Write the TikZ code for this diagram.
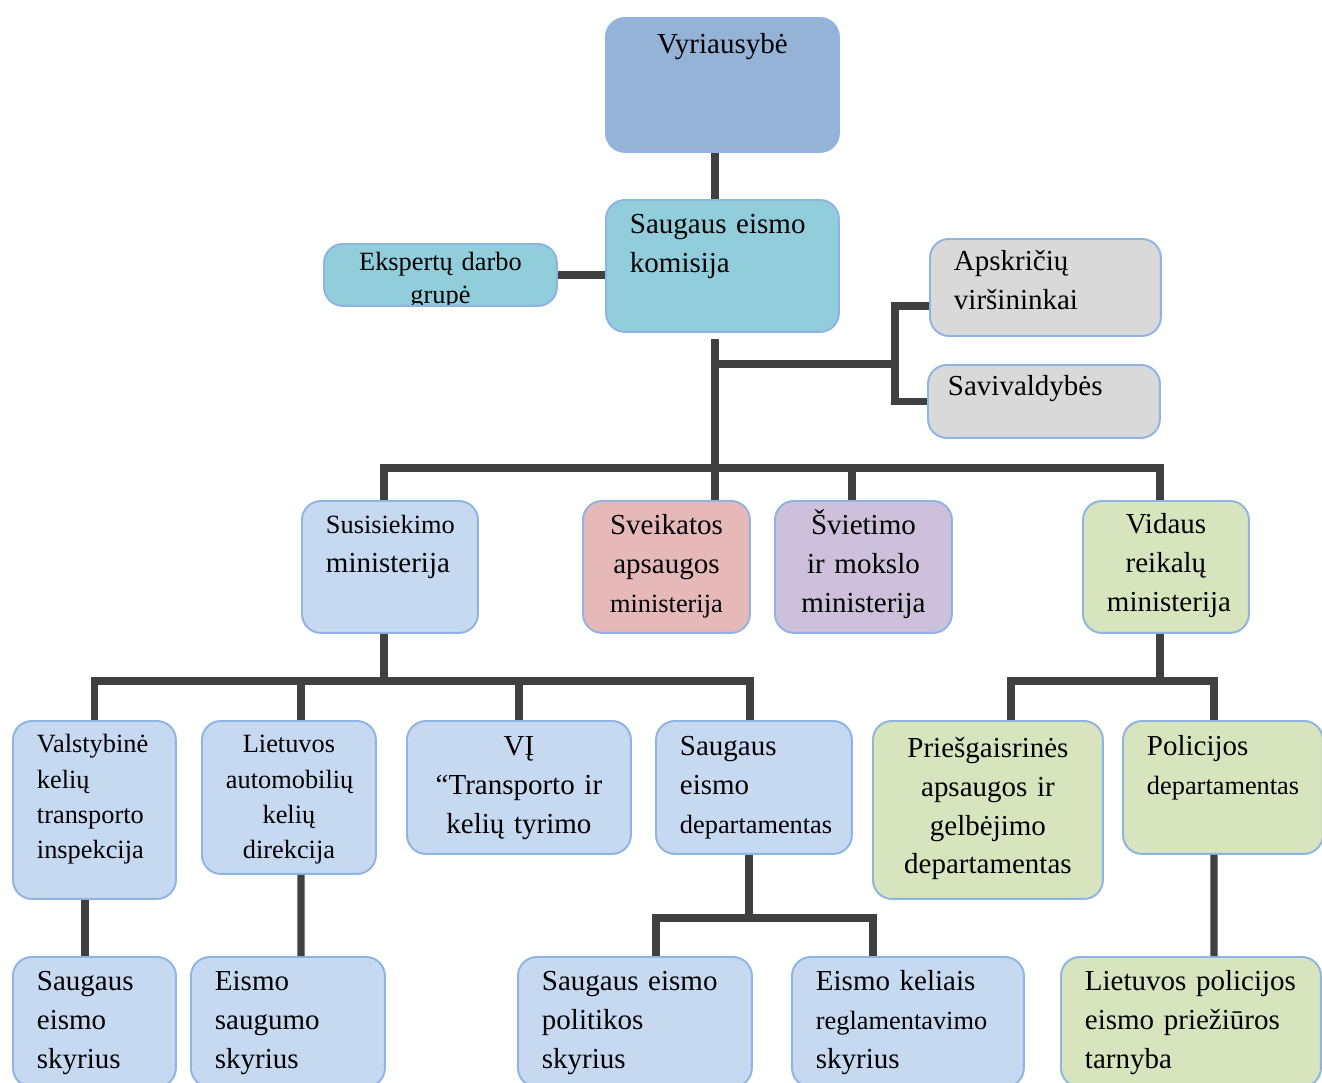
\documentclass[tikz,border=0pt]{standalone}
\usepackage{fontspec}
\setmainfont{Liberation Serif}
\usepackage{xcolor}
\usepackage{tikz}

\definecolor{edge}{HTML}{8EB4E3}
\definecolor{linkgray}{HTML}{404040}
\definecolor{cvyr}{HTML}{95B3D7}
\definecolor{cteal}{HTML}{92CDDC}
\definecolor{cgray}{HTML}{D9D9D9}
\definecolor{clblue}{HTML}{C6D9F1}
\definecolor{cpink}{HTML}{E6B9B8}
\definecolor{clav}{HTML}{CCC0DA}
\definecolor{cgreen}{HTML}{D7E4BD}

\newcommand{\txtbig}{\fontsize{16.5}{22}\selectfont}
\newcommand{\txtsmall}{\fontsize{15}{20}\selectfont}

\begin{document}
\begin{tikzpicture}[x=0.02cm, y=-0.02cm,
  unit/.style={draw=edge, line width=1.1pt, rounded corners=0.38cm, anchor=north west,
    inner xsep=0.48cm, inner ysep=0pt, font=\txtbig},
  link/.style={draw=linkgray, line width=4.2pt}]
\useasboundingbox (0,0) rectangle (1322,1082);
\clip (0,0) rectangle (1322,1082);

% top
\node[unit, fill=cvyr, text width=3.70cm, text height=0.72cm, text depth=1.96cm, align=center] (vyr) at (605,17) {Vyriausybė};
\node[unit, fill=cteal, text width=3.70cm, text height=0.68cm, text depth=1.96cm, align=left] (komisija) at (605,199) {Saugaus eismo\\komisija};
\node[unit, fill=cteal, minimum width=4.66cm, minimum height=1.24cm,
  path picture={\node[draw=none, fill=none, anchor=base, inner sep=0pt, text width=3.70cm, align=center,
    font=\fontsize{15}{18.7}\selectfont] (ekspertaitxt) at ([yshift=-0.54cm]path picture bounding box.north) {Ekspertų darbo\\grupė};}] (ekspertai) at (323,243) {};
\node[unit, fill=cgray, text width=3.66cm, text height=0.64cm, text depth=1.30cm, align=left] (apskr) at (929,238) {Apskričių\\viršininkai};
\node[unit, fill=cgray, inner xsep=0.40cm, text width=3.84cm, text height=0.62cm, text depth=0.84cm, align=left] (saviv) at (927,364) {Savivaldybės};

% ministerijos
\node[unit, fill=clblue, text width=2.56cm, text height=0.66cm, text depth=1.98cm, align=left] (susis) at (301,500) {{\txtsmall Susisiekimo}\\ministerija};
\node[unit, fill=cpink, text width=2.38cm, text height=0.68cm, text depth=1.96cm, align=center] (sveik) at (582,500) {Sveikatos\\apsaugos\\{\txtsmall ministerija}};
\node[unit, fill=clav, text width=2.58cm, text height=0.68cm, text depth=1.96cm, align=center] (sviet) at (774,500) {Švietimo\\ir mokslo\\ministerija};
\node[unit, fill=cgreen, text width=2.36cm, text height=0.66cm, text depth=1.98cm, align=center] (vidaus) at (1082,500) {Vidaus\\reikalų\\ministerija};

% padaliniai
\node[unit, fill=clblue, font=\txtsmall, text width=2.30cm, text height=0.64cm, text depth=2.92cm, align=left] (valst) at (12,720) {Valstybinė\\kelių\\transporto\\inspekcija};
\node[unit, fill=clblue, font=\txtsmall, text width=2.52cm, text height=0.64cm, text depth=2.42cm, align=center] (lakd) at (201,720) {Lietuvos\\automobilių\\kelių\\direkcija};
\node[unit, fill=clblue, text width=3.52cm, text height=0.70cm, text depth=1.96cm, align=center] (vi) at (406,720) {VĮ\\“Transporto ir\\kelių tyrimo};
\node[unit, fill=clblue, text width=2.96cm, text height=0.70cm, text depth=1.96cm, align=left] (sed) at (655,720) {Saugaus\\eismo\\{\txtsmall departamentas}};
\node[unit, fill=cgreen, text width=3.64cm, text height=0.74cm, text depth=2.82cm, align=center] (pgd) at (872,720) {Priešgaisrinės\\apsaugos ir\\gelbėjimo\\departamentas};
\node[unit, fill=cgreen, text width=3.04cm, text height=0.70cm, text depth=1.96cm, align=left] (polic) at (1122,720) {Policijos\\{\txtsmall departamentas}};

% skyriai
\node[unit, fill=clblue, text width=2.30cm, text height=0.68cm, text depth=1.92cm, align=left] (sesk) at (12,956) {Saugaus\\eismo\\skyrius};
\node[unit, fill=clblue, text width=2.92cm, text height=0.68cm, text depth=1.92cm, align=left] (ess) at (190,956) {Eismo\\saugumo\\skyrius};
\node[unit, fill=clblue, text width=3.72cm, text height=0.68cm, text depth=1.92cm, align=left] (sep) at (517,956) {Saugaus eismo\\politikos\\skyrius};
\node[unit, fill=clblue, text width=3.68cm, text height=0.68cm, text depth=1.92cm, align=left] (ekr) at (791,956) {Eismo keliais\\{\txtsmall reglamentavimo}\\skyrius};
\node[unit, fill=cgreen, text width=4.24cm, text height=0.68cm, text depth=1.92cm, align=left] (lpet) at (1060,956) {Lietuvos policijos\\eismo priežiūros\\tarnyba};

% jungtys
\coordinate (j0) at (715,468);
\coordinate (j1) at (384,681);
\coordinate (j2) at (1160,681);
\coordinate (j3) at (749,918);
\coordinate (j4) at (895,364);

\draw[link] (vyr.south -| j0) -- (komisija.north -| j0);
\draw[link] (ekspertai.east) -- (ekspertai.east -| komisija.west);
\draw[link] ([yshift=-0.12cm]komisija.south -| j0) -- (sveik.north -| j0);
\draw[link] (j0 |- j4) -- (j4);
\draw[link] ([yshift=-0.37cm]apskr.west) -| (j4) |- (saviv.west);
\draw[link] (j0) -| (susis.north -| j1);
\draw[link] (j0) -| ([xshift=-0.23cm]sviet.north);
\draw[link] (j0) -| (vidaus.north -| j2);

\draw[link] (susis.south -| j1) -- (j1);
\draw[link] (j1) -| (valst.north);
\draw[link] (j1) -| ([xshift=0.24cm]lakd.north);
\draw[link] (j1) -| (vi.north);
\draw[link] (j1) -| ([xshift=-0.08cm]sed.north);
\draw[link] ([xshift=-0.19cm]valst.south) -- ([xshift=-0.19cm]sesk.north);
\draw[link] ([xshift=0.24cm]lakd.south) -- ([xshift=0.26cm]ess.north);

\draw[link] (sed.south -| j3) -- (j3);
\draw[link] (j3) -| ([xshift=0.42cm]sep.north);
\draw[link] (j3) -| ([xshift=-0.70cm]ekr.north);

\draw[link] (vidaus.south -| j2) -- (j2);
\draw[link] (j2) -| ([xshift=0.46cm]pgd.north);
\draw[link] (j2) -| ([xshift=-0.18cm]polic.north);
\draw[link] ([xshift=-0.18cm]polic.south) -- ([xshift=0.46cm]lpet.north);
\end{tikzpicture}
\end{document}
